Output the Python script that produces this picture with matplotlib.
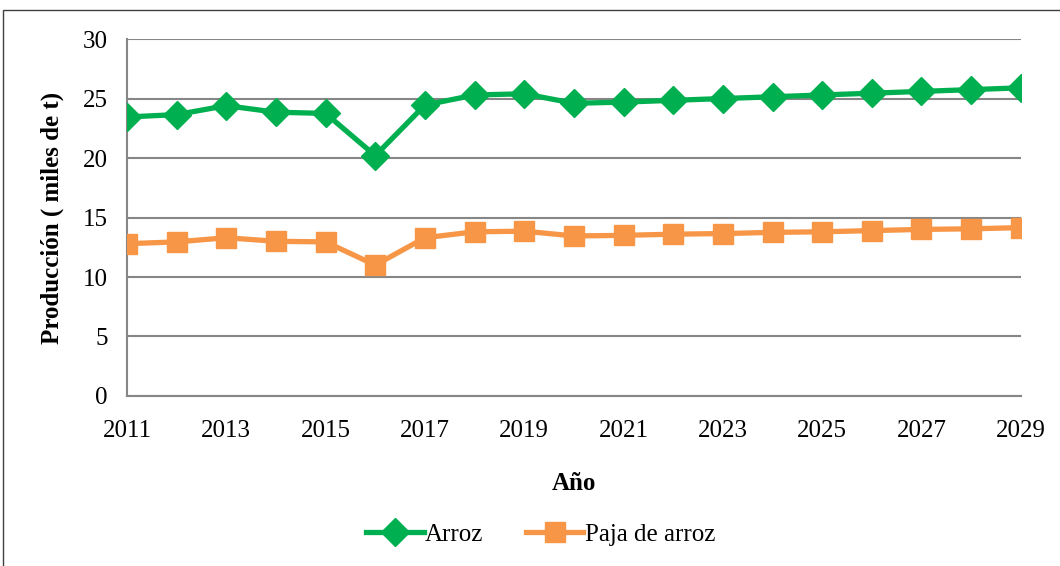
import matplotlib.pyplot as plt
from matplotlib.patches import Rectangle

plt.rcParams['font.family'] = ['Liberation Serif', 'DejaVu Serif']

# datos
anios = list(range(2011, 2030))
arroz = [23.45, 23.65, 24.4, 23.85, 23.75, 20.2, 24.45, 25.3, 25.4, 24.6,
         24.7, 24.85, 25.0, 25.15, 25.3, 25.45, 25.6, 25.75, 25.9]
paja = [12.8, 12.95, 13.3, 13.0, 12.95, 11.0, 13.3, 13.8, 13.85, 13.45,
        13.5, 13.6, 13.65, 13.75, 13.8, 13.9, 14.0, 14.05, 14.15]
xticks = list(range(2011, 2030, 2))
yticks = [0, 5, 10, 15, 20, 25, 30]

fig = plt.figure(figsize=(10.6, 5.66), dpi=100)
ax = fig.add_axes([0.1198, 0.3004, 0.8432, 0.6306])

ax.plot(anios, arroz, color='#00B050', lw=3.8, marker='D', ms=14, label='Arroz', zorder=3)
ax.plot(anios, paja, color='#F79646', lw=3.8, marker='s', ms=14, label='Paja de arroz', zorder=3)

ax.set_xlim(2011, 2029)
ax.set_ylim(0, 30)
ax.set_xticks(xticks)
ax.set_yticks(yticks)
ax.tick_params(axis='both', length=0, labelsize=18)
ax.tick_params(axis='x', pad=17)
ax.tick_params(axis='y', pad=14)
ax.grid(axis='y', color='#868686', lw=1.5)
ax.set_axisbelow(True)
for s in ['top', 'right']:
    ax.spines[s].set_visible(False)
ax.spines['left'].set_color('#868686')
ax.spines['bottom'].set_color('#868686')
ax.spines['left'].set_linewidth(1.5)
ax.spines['bottom'].set_linewidth(1.5)

ax.set_ylabel('Producción ( miles de t)', fontsize=18, fontweight='bold', labelpad=13)
ax.set_xlabel('Año', fontsize=18, fontweight='bold', labelpad=22)

fig.legend(loc='center', bbox_to_anchor=(0.51, 0.056), ncol=2, frameon=False,
           fontsize=18, handlelength=2.3, handletextpad=0.05, columnspacing=1.7)

# marco exterior
fig.patches.append(Rectangle((0.003, -0.01), 1.1, 0.992, transform=fig.transFigure,
                             fill=False, edgecolor='#404040', lw=1))

fig.savefig('out.png', dpi=100)
